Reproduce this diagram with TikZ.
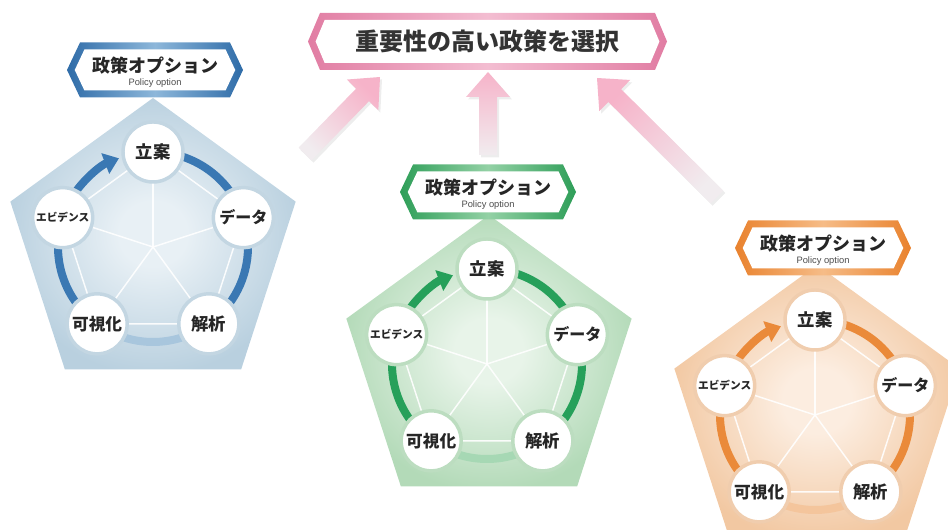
\documentclass[tikz,border=0pt]{standalone}
\usepackage{fontspec}
\usetikzlibrary{calc,arrows.meta}
\newfontfamily\jp{Noto Sans CJK JP}
\newfontfamily\lat{Liberation Sans}

\definecolor{Bring}{HTML}{3A78B3}
\definecolor{Bringl}{HTML}{A8C6DD}
\definecolor{Bpin}{HTML}{E8F0F5}
\definecolor{Bpout}{HTML}{B9D0DF}
\definecolor{Bcb}{HTML}{C3D6E2}
\definecolor{Bband}{HTML}{2F6CA8}
\definecolor{Bbanl}{HTML}{8DB7DA}

\definecolor{Gring}{HTML}{26A05A}
\definecolor{Gringl}{HTML}{A6D8B4}
\definecolor{Gpin}{HTML}{E8F4E9}
\definecolor{Gpout}{HTML}{B3DAB8}
\definecolor{Gcb}{HTML}{BCDDC0}
\definecolor{Gband}{HTML}{2E9E58}
\definecolor{Gbanl}{HTML}{93D1A5}

\definecolor{Oring}{HTML}{EA8A3A}
\definecolor{Oringl}{HTML}{F4C59C}
\definecolor{Opin}{HTML}{FCEDE0}
\definecolor{Opout}{HTML}{F2C8A2}
\definecolor{Ocb}{HTML}{F0CDAE}
\definecolor{Oband}{HTML}{E9822E}
\definecolor{Obanl}{HTML}{F6BC87}

\definecolor{Pband}{HTML}{E17DA3}
\definecolor{Pbanl}{HTML}{F3BDD1}
\definecolor{Parrow}{HTML}{F6B3C9}
\definecolor{Ptail}{HTML}{F1ECEF}

\pgfdeclareradialshading{pentB}{\pgfpoint{0bp}{0bp}}{color(0bp)=(Bpin);color(6bp)=(Bpin);color(26bp)=(Bpout);color(50bp)=(Bpout)}
\pgfdeclareradialshading{pentG}{\pgfpoint{0bp}{0bp}}{color(0bp)=(Gpin);color(6bp)=(Gpin);color(26bp)=(Gpout);color(50bp)=(Gpout)}
\pgfdeclareradialshading{pentO}{\pgfpoint{0bp}{0bp}}{color(0bp)=(Opin);color(6bp)=(Opin);color(26bp)=(Opout);color(50bp)=(Opout)}

% #1 cx, #2 cy, #3 half width, #4 half height, #5 point depth, #6 border, #7 dark, #8 light
\newcommand\hexbanner[8]{%
  \pgfmathsetmacro\ipx{#3-#6/sin(atan2(#4,#5))}%
  \pgfmathsetmacro\ihh{#4-#6}%
  \pgfmathsetmacro\icx{\ipx-\ihh*#5/#4}%
  \begin{scope}[shift={(#1,#2)}]
    \shade[left color=#7, right color=#7, middle color=#8]
      (-#3,0) -- (-#3+#5,#4) -- (#3-#5,#4) -- (#3,0) -- (#3-#5,-#4) -- (-#3+#5,-#4) -- cycle;
    \fill[white] (-\ipx,0) -- (-\icx,\ihh) -- (\icx,\ihh) -- (\ipx,0) -- (\icx,-\ihh) -- (-\icx,-\ihh) -- cycle;
  \end{scope}}

% #1 tail, #2 tip, #3 shading angle
\newcommand\blockarrow[3]{%
  \coordinate (#2hb) at ($(#2)!18.75pt!(#1)$);
  \fill[black, opacity=0.07, transform canvas={shift={(1.5pt,-1.8pt)}}]
    ($(#1)!6.75pt!90:(#2)$) -- ($(#2hb)!6.75pt!90:(#2)$) -- ($(#2hb)!16.5pt!90:(#2)$) -- (#2)
    -- ($(#2hb)!16.5pt!-90:(#2)$) -- ($(#2hb)!6.75pt!-90:(#2)$) -- ($(#1)!6.75pt!-90:(#2)$) -- cycle;
  \shade[top color=Parrow, bottom color=Ptail, shading angle=#3]
    ($(#1)!6.75pt!90:(#2)$) -- ($(#2hb)!6.75pt!90:(#2)$) -- ($(#2hb)!16.5pt!90:(#2)$) -- (#2)
    -- ($(#2hb)!16.5pt!-90:(#2)$) -- ($(#2hb)!6.75pt!-90:(#2)$) -- ($(#1)!6.75pt!-90:(#2)$) -- cycle;}

% #1 prefix, #2 theme, #3 #4 banner centre, #5 #6 pentagon centre, #7 #8 ring centre
\newcommand\policygroup[8]{%
  \coordinate (#1pc) at (#5,#6);
  \coordinate (#1ctr) at (#7,#8);
  \shade[shading=pent#2] ($(#1pc)+(90:150)$) -- ($(#1pc)+(162:150)$) -- ($(#1pc)+(234:150)$)
    -- ($(#1pc)+(306:150)$) -- ($(#1pc)+(18:150)$) -- cycle;
  \coordinate (#1p1) at ($(#1ctr)+(90:95)$);
  \coordinate (#1p2) at ($(#1ctr)+(18:95)$);
  \coordinate (#1p3) at ($(#1ctr)+(-54:95)$);
  \coordinate (#1p4) at ($(#1ctr)+(-126:95)$);
  \coordinate (#1p5) at ($(#1ctr)+(162:95)$);
  \foreach \i in {1,...,5} \draw[spoke] (#1ctr) -- (#1p\i);
  \draw[spoke] (#1p1) -- (#1p2) -- (#1p3) -- (#1p4) -- (#1p5) -- cycle;
  \draw[ringline, #2ringl] (#1p3) arc[start angle=-54, end angle=-126, radius=95];
  \draw[ringline, #2ring] (#1p1) arc[start angle=90, end angle=-54, radius=95];
  \draw[ringline, #2ring, -{Triangle[length=11pt,width=16pt]}] (#1p4) arc[start angle=234, end angle=111, radius=95];
  \node[circ=#2, font=\jp\bfseries\fontsize{13}{13}\selectfont] (#1c1) at (#1p1) {立案};
  \node[circ=#2, font=\jp\bfseries\fontsize{12}{12}\selectfont] (#1c2) at (#1p2) {データ};
  \node[circ=#2, font=\jp\bfseries\fontsize{13}{13}\selectfont] (#1c3) at (#1p3) {解析};
  \node[circ=#2, font=\jp\bfseries\fontsize{12.5}{13}\selectfont] (#1c4) at (#1p4) {可視化};
  \node[circ=#2, font=\jp\bfseries\fontsize{8}{8}\selectfont, inner sep=0pt] (#1c5) at (#1p5) {エビデンス};
  \hexbanner{#3}{#4}{88}{27.5}{13}{7}{#2band}{#2banl}
  \node[font=\jp\bfseries\fontsize{13.5}{14}\selectfont, text=black!85] (#1ban) at (#3,#4+4.5) {政策オプション};
  \node[font=\lat\fontsize{7}{8}\selectfont, text=black!70] (#1sub) at (#3,#4-13.5) {Policy option};
}

\begin{document}
\begin{tikzpicture}[x=0.75pt,y=0.75pt,
  spoke/.style={white, line width=1.1pt, opacity=0.9},
  ringline/.style={line width=6pt},
  circ/.style={circle, minimum size=45pt, inner sep=0pt, draw=#1cb, line width=2.6pt, fill=white, text=black!85}]
\path[use as bounding box] (0,0) rectangle (948,530);
\clip (0,0) rectangle (948,530);

% pink arrows
\coordinate (aLt) at (305,376); \coordinate (aLh) at (380,453);
\coordinate (aMt) at (488,375); \coordinate (aMh) at (488,458);
\coordinate (aRt) at (717,333); \coordinate (aRh) at (597,452);
\blockarrow{aLt}{aLh}{-44}
\blockarrow{aMt}{aMh}{0}
\blockarrow{aRt}{aRh}{45}

% top banner
\hexbanner{487.5}{488.5}{179.5}{28.5}{12}{7}{Pband}{Pbanl}
\node[font=\jp\bfseries\fontsize{18}{20}\selectfont, text=black!80] (title) at (487.5,489) {重要性の高い政策を選択};

\policygroup{b}{B}{155}{460}{153}{282}{153}{283}
\policygroup{g}{G}{488}{338}{489}{165}{487}{166}
\policygroup{o}{O}{823}{282}{817}{115}{815}{115}
\end{tikzpicture}
\end{document}
